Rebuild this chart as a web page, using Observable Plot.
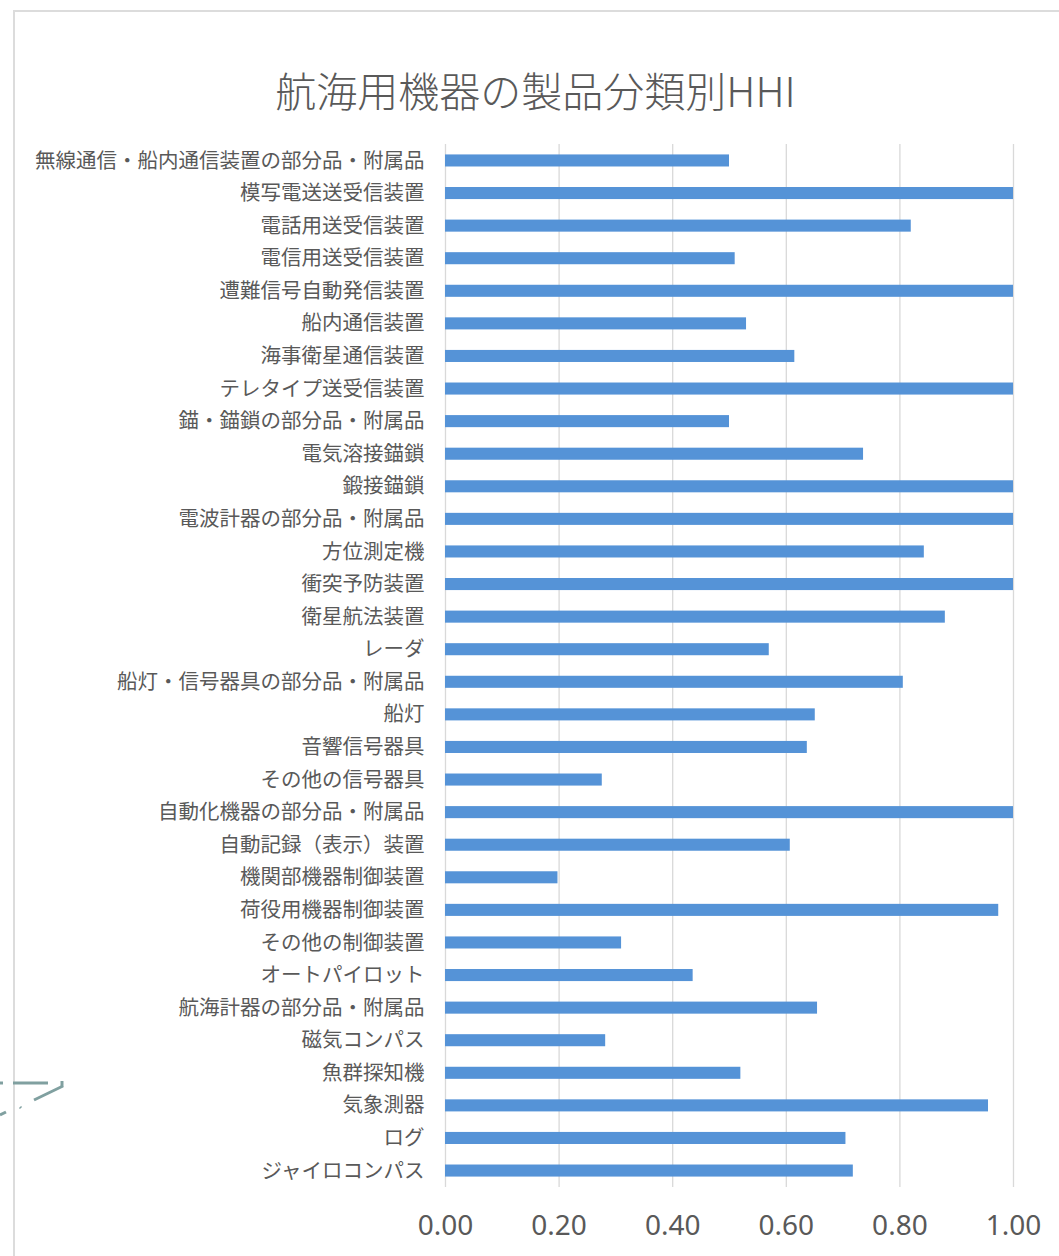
<!DOCTYPE html>
<html>
<head>
<meta charset="utf-8">
<script src="https://cdn.jsdelivr.net/npm/d3@7"></script>
<script src="https://cdn.jsdelivr.net/npm/@observablehq/plot@0.6"></script>
<style>
  html, body { margin: 0; padding: 0; background: #fff; overflow: hidden; }
  #wrap { position: relative; width: 1059px; height: 1256px; }
  #frame { position: absolute; left: 13px; top: 10px; width: 1100px; height: 1300px;
           border: 2px solid #dcdcdc; box-sizing: border-box; pointer-events: none; }
  #title { position: absolute; left: 6px; width: 1059px; top: 68px; text-align: center;
           font-family: "Noto Sans CJK JP", "Noto Sans", sans-serif; font-size: 41px;
           line-height: 42px; color: #595959; font-weight: 300; }
  #deco { position: absolute; left: 0; top: 1075px; }
  #chart { position: absolute; left: 0; top: 130px; }
</style>
</head>
<body>
<div id="wrap">
  <div id="frame"></div>
  <div id="title">航海用機器の製品分類別HHI</div>
  <svg id="deco" width="70" height="50" viewBox="0 0 70 50">
    <g stroke="#80a0a0" stroke-width="3" fill="none">
      <path d="M0 8 L3 8"/>
      <path d="M13 8 L48 8"/>
      <path d="M62 6 L62 12"/>
      <path d="M63 11 L34 25"/>
      <path d="M20 32 L21 33"/>
      <path d="M6 37 L0 40"/>
    </g>
  </svg>
  <div id="chart"></div>
</div>
<script>
const categories = [
  "無線通信・船内通信装置の部分品・附属品",
  "模写電送送受信装置",
  "電話用送受信装置",
  "電信用送受信装置",
  "遭難信号自動発信装置",
  "船内通信装置",
  "海事衛星通信装置",
  "テレタイプ送受信装置",
  "錨・錨鎖の部分品・附属品",
  "電気溶接錨鎖",
  "鍛接錨鎖",
  "電波計器の部分品・附属品",
  "方位測定機",
  "衝突予防装置",
  "衛星航法装置",
  "レーダ",
  "船灯・信号器具の部分品・附属品",
  "船灯",
  "音響信号器具",
  "その他の信号器具",
  "自動化機器の部分品・附属品",
  "自動記録（表示）装置",
  "機関部機器制御装置",
  "荷役用機器制御装置",
  "その他の制御装置",
  "オートパイロット",
  "航海計器の部分品・附属品",
  "磁気コンパス",
  "魚群探知機",
  "気象測器",
  "ログ",
  "ジャイロコンパス"
];
const hhi = [
  0.50, 1.00, 0.82, 0.51, 1.00, 0.53, 0.615, 1.00,
  0.50, 0.736, 1.00, 1.00, 0.843, 1.00, 0.88, 0.57,
  0.806, 0.651, 0.637, 0.276, 1.00, 0.607, 0.198, 0.974,
  0.31, 0.436, 0.655, 0.282, 0.52, 0.956, 0.705, 0.718
];
const xTicks = [0, 0.2, 0.4, 0.6, 0.8, 1.0];

const data = categories.map((c, i) => ({category: c, value: hhi[i]}));

const chart = Plot.plot({
  width: 1059,
  height: 1126,
  marginTop: 14,
  marginBottom: 69,
  marginLeft: 445,
  marginRight: 46,
  style: {background: "transparent", fontFamily: "'Noto Sans CJK JP', 'Noto Sans', sans-serif"},
  x: {domain: [0, 1]},
  y: {domain: categories, paddingInner: 0.63, paddingOuter: 0.32, round: false},
  marks: [
    Plot.gridX(xTicks, {stroke: "#d9d9d9", strokeOpacity: 1, strokeWidth: 1.3}),
    Plot.barX(data, {x: "value", y: "category", fill: "#5593d7"}),
    Plot.axisX({
      ticks: xTicks, tickSize: 0, tickPadding: 28,
      tickFormat: d => d.toFixed(2), label: null,
      fontSize: 28, fill: "#595959",
      fontFamily: "'Liberation Sans Narrow', 'Noto Sans', sans-serif"
    }),
    Plot.axisY({
      tickSize: 0, tickPadding: 21, label: null,
      fontSize: 20.5, fill: "#595959",
      fontFamily: "'Noto Sans CJK JP', sans-serif"
    })
  ]
});
document.getElementById("chart").appendChild(chart);
</script>
</body>
</html>
